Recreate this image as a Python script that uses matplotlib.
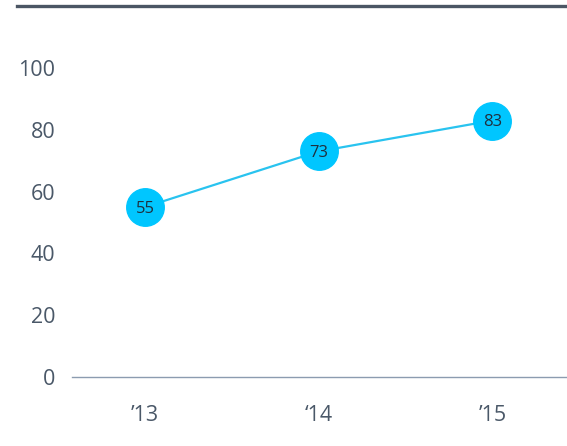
import matplotlib
matplotlib.use('Agg')
import matplotlib.pyplot as plt
from matplotlib.lines import Line2D

years = ['\u201913', '\u201814', '\u201915']
values = [55, 73, 83]
yticks = [0, 20, 40, 60, 80, 100]

plt.rcParams['font.family'] = ['Open Sans', 'DejaVu Sans']

fig = plt.figure(figsize=(5.67, 4.46), dpi=100)
ax = fig.add_axes([72 / 567, 69 / 446, 1 - 72 / 567, 309 / 446])

x = list(range(len(values)))
ax.plot(x, values, color='#29c3ef', linewidth=1.6, zorder=2)
ax.plot(x, values, linestyle='none', marker='o', markersize=27,
        markerfacecolor='#00c6ff', markeredgecolor='#00c6ff', zorder=3, clip_on=False)
for xi, v in zip(x, values):
    ax.text(xi, v - 0.5, str(v), ha='center', va='center', fontsize=12,
            color='#1f2f3e', zorder=4)

ax.set_xlim(-0.42, 2.43)
ax.set_ylim(0, 100)
ax.set_xticks(x)
ax.set_xticklabels(years)
ax.set_yticks(yticks)
ax.tick_params(length=0, labelsize=15.5, colors='#4a5868')
ax.tick_params(axis='y', pad=12)
ax.tick_params(axis='x', pad=20)
for s in ['top', 'right', 'left']:
    ax.spines[s].set_visible(False)
ax.spines['bottom'].set_color('#8c9cb0')
ax.spines['bottom'].set_linewidth(1.0)

fig.add_artist(Line2D([17 / 567, 1], [1 - 6 / 446, 1 - 6 / 446],
                      color='#4b5664', linewidth=2.4, transform=fig.transFigure))

fig.savefig('out.png', dpi=100)
